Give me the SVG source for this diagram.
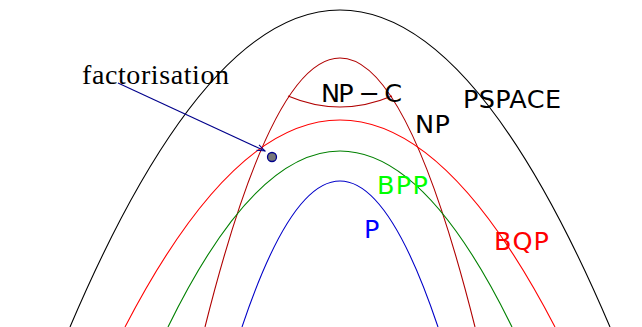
<svg xmlns="http://www.w3.org/2000/svg" width="642" height="327" viewBox="0 0 642 327">
<defs>
<style>
.c{fill:none;stroke-width:1.1}
.l{font-family:"DejaVu Sans",sans-serif;font-size:25.5px}
</style>
<marker id="ah" markerWidth="10" markerHeight="8" refX="9" refY="4" orient="auto" markerUnits="userSpaceOnUse">
<path d="M1,1 L9,4 L1,7" fill="none" stroke="#00008b" stroke-width="1"/>
</marker>
</defs>
<rect width="642" height="327" fill="#fff"/>
<g id="pspace"><path class="c" stroke="#000" d="M70,327 Q340,-307 610,327"/><text class="l" x="463" y="108" textLength="98">PSPACE</text></g>
<g id="np"><path class="c" stroke="#b00000" d="M205,327 Q340,-211 475,327"/><text class="l" x="415" y="133" textLength="35">NP</text></g>
<g id="npc"><path class="c" stroke="#b00000" d="M288,96 Q340,118 392,96"/><text class="l" x="321" y="102" textLength="81">NP − C</text></g>
<g id="bqp"><path class="c" stroke="#f00" d="M125,327 Q340,-87 555,327"/><text class="l" x="494" y="250" fill="#f00" textLength="55">BQP</text></g>
<g id="bpp"><path class="c" stroke="#008000" d="M168,327 Q340,-25 512,327"/><text class="l" x="377" y="194" fill="#0f0" textLength="51">BPP</text></g>
<g id="p"><path class="c" stroke="#0000c8" d="M242,327 Q340,35 438,327"/><text class="l" x="364" y="238" fill="#00f" textLength="17">P</text></g>
<g id="factorisation"><text x="82" y="84" font-family="'Liberation Serif',serif" font-size="28" textLength="147">factorisation</text><circle cx="272" cy="157" r="4.5" fill="#777" stroke="#00008b" stroke-width="1.3"/></g>
<g id="connectors"><line x1="118" y1="83" x2="265" y2="151" stroke="#00008b" stroke-width="1.1" marker-end="url(#ah)"/></g>
</svg>
